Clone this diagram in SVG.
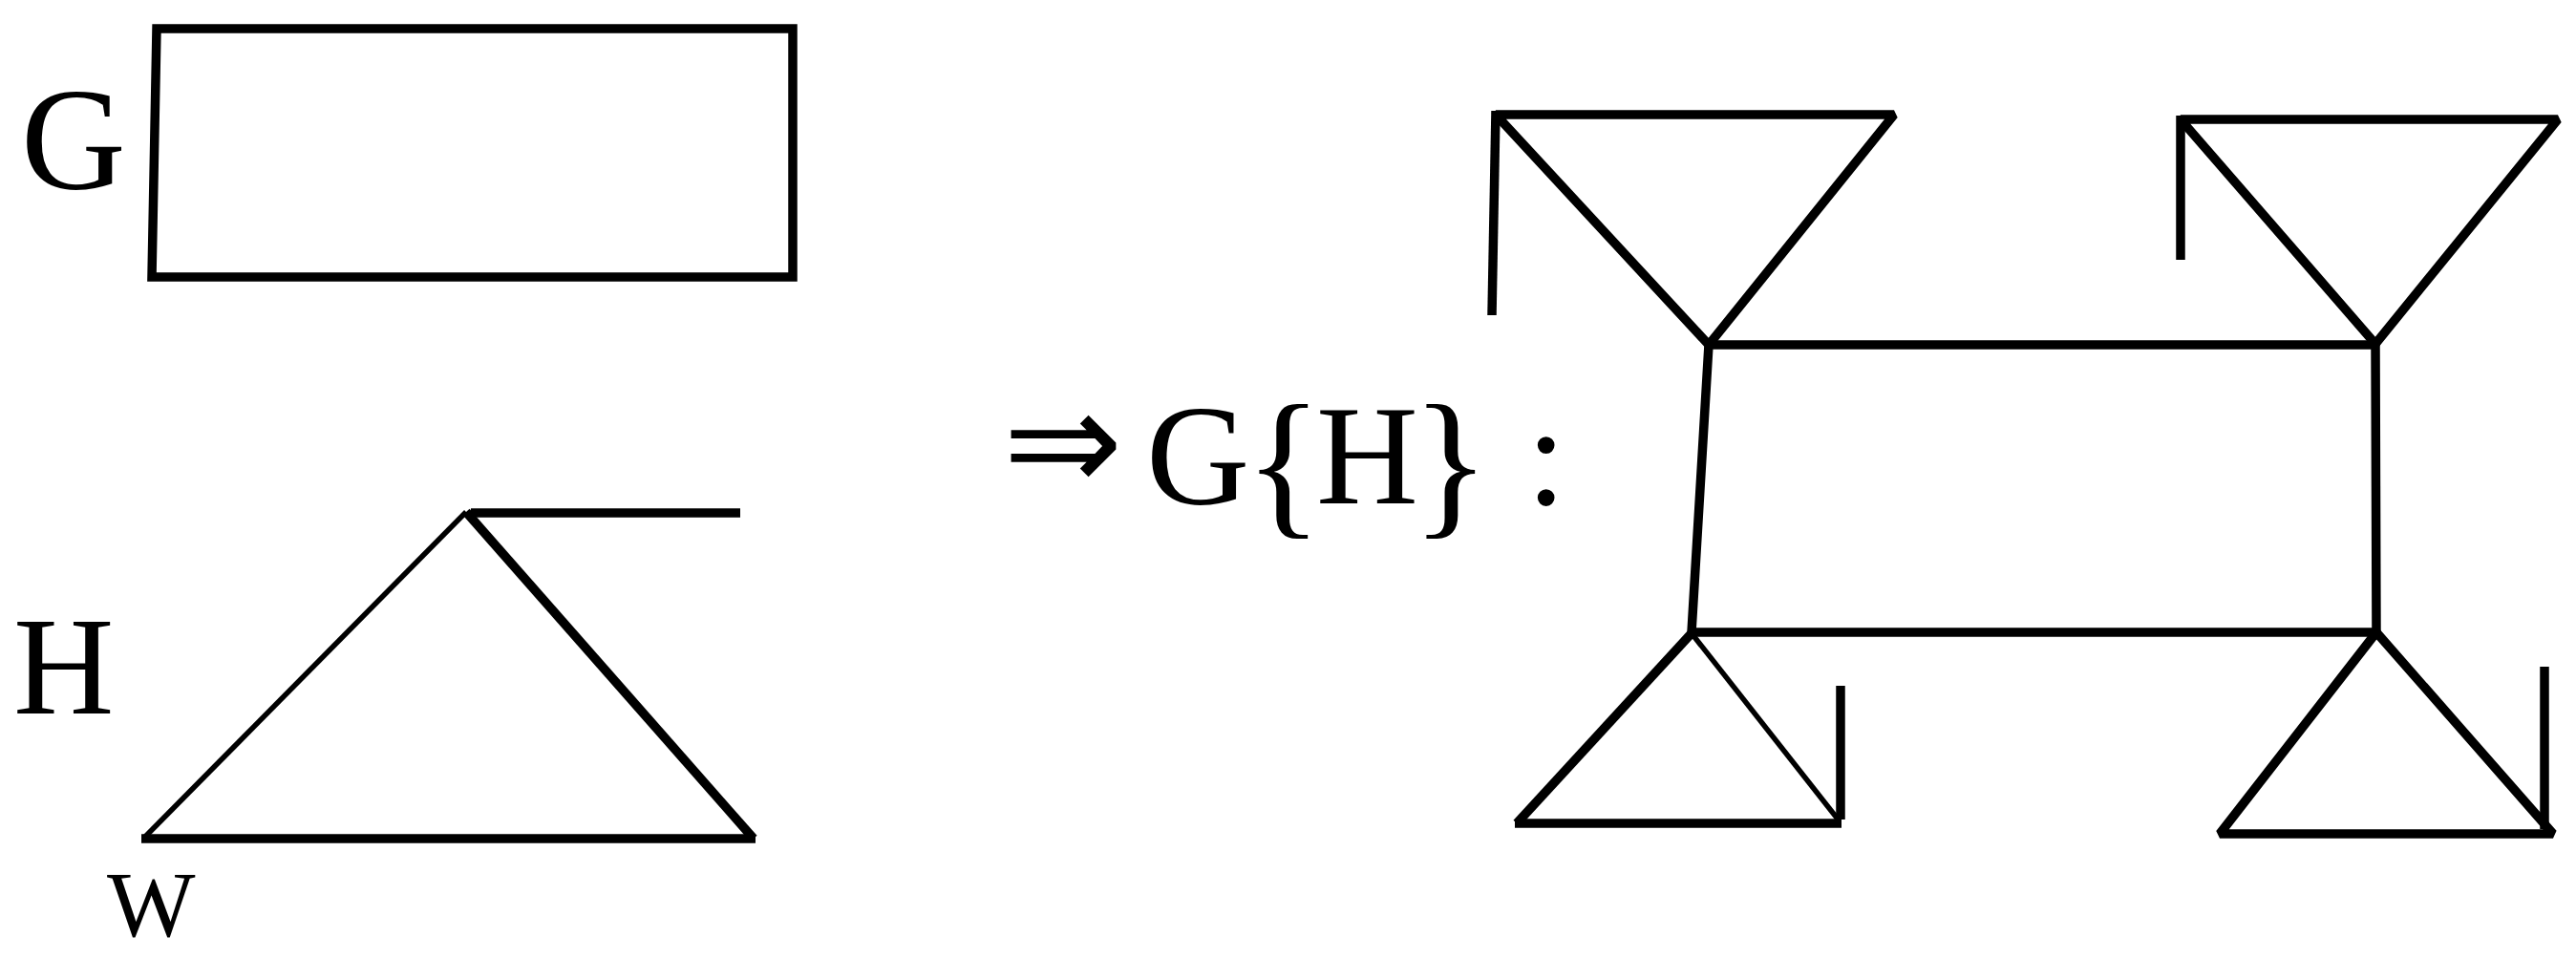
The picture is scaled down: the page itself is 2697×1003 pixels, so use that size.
<svg xmlns="http://www.w3.org/2000/svg" width="2697" height="1003" viewBox="0 0 2697 1003">
<style>
.e{stroke:#000;stroke-width:9.5;fill:none;stroke-linecap:butt;stroke-linejoin:miter;stroke-miterlimit:1.6}
.t{stroke:#000;stroke-width:5.5;fill:none;stroke-linecap:butt}
.lbl{font-family:"Liberation Serif","DejaVu Serif",serif;fill:#000}
</style>
<rect width="2697" height="1003" fill="#fff"/>
<g id="G-graph">
<text class="lbl" x="22" y="198" font-size="152">G</text>
<path class="e" d="M164 30 L830 30 L830 290 L159 290 Z"/>
</g>
<g id="H-graph">
<text class="lbl" x="14" y="747" font-size="146">H</text>
<text class="lbl" x="112" y="980" font-size="98">W</text>
<path class="e" d="M493 537 L775 537"/>
<path class="t" d="M488 536 L150 878"/>
<path class="e" d="M488 536 L789 878"/>
<path class="e" d="M148 878 L791 878"/>
</g>
<g id="formula">
<text x="1050" y="514" font-size="150" style="font-family:'DejaVu Sans',sans-serif">⇒</text>
<text class="lbl" x="1200" y="528" font-size="150">G</text>
<text class="lbl" x="1303" y="541" font-size="170">{</text>
<text class="lbl" x="1378" y="527" font-size="148">H</text>
<text class="lbl" x="1478" y="541" font-size="170">}</text>
<text class="lbl" x="1598" y="528" font-size="150">:</text>
</g>
<g id="result">
<g id="core">
<path class="e" d="M1789 361 L2487 361 L2488 662 L1771 662 Z"/>
</g>
<g id="tri-top-left">
<path class="e" d="M1566 120 L1983 120 L1789 361 Z"/>
<path class="e" d="M1566 116 L1562 330"/>
</g>
<g id="tri-top-right">
<path class="e" d="M2283 125 L2678 125 L2487 360 Z"/>
<path class="e" d="M2283 121 L2283 272"/>
</g>
<g id="tri-bottom-left">
<path class="e" d="M1771 663 L1588 862"/>
<path class="t" d="M1771 663 L1926 860"/>
<path class="e" d="M1586 862 L1928 862"/>
<path class="e" d="M1927 718 L1927 858"/>
</g>
<g id="tri-bottom-right">
<path class="e" d="M2488 662 L2324 873 L2673 873 Z"/>
<path class="e" d="M2664 698 L2664 868"/>
</g>
</g>
</svg>
